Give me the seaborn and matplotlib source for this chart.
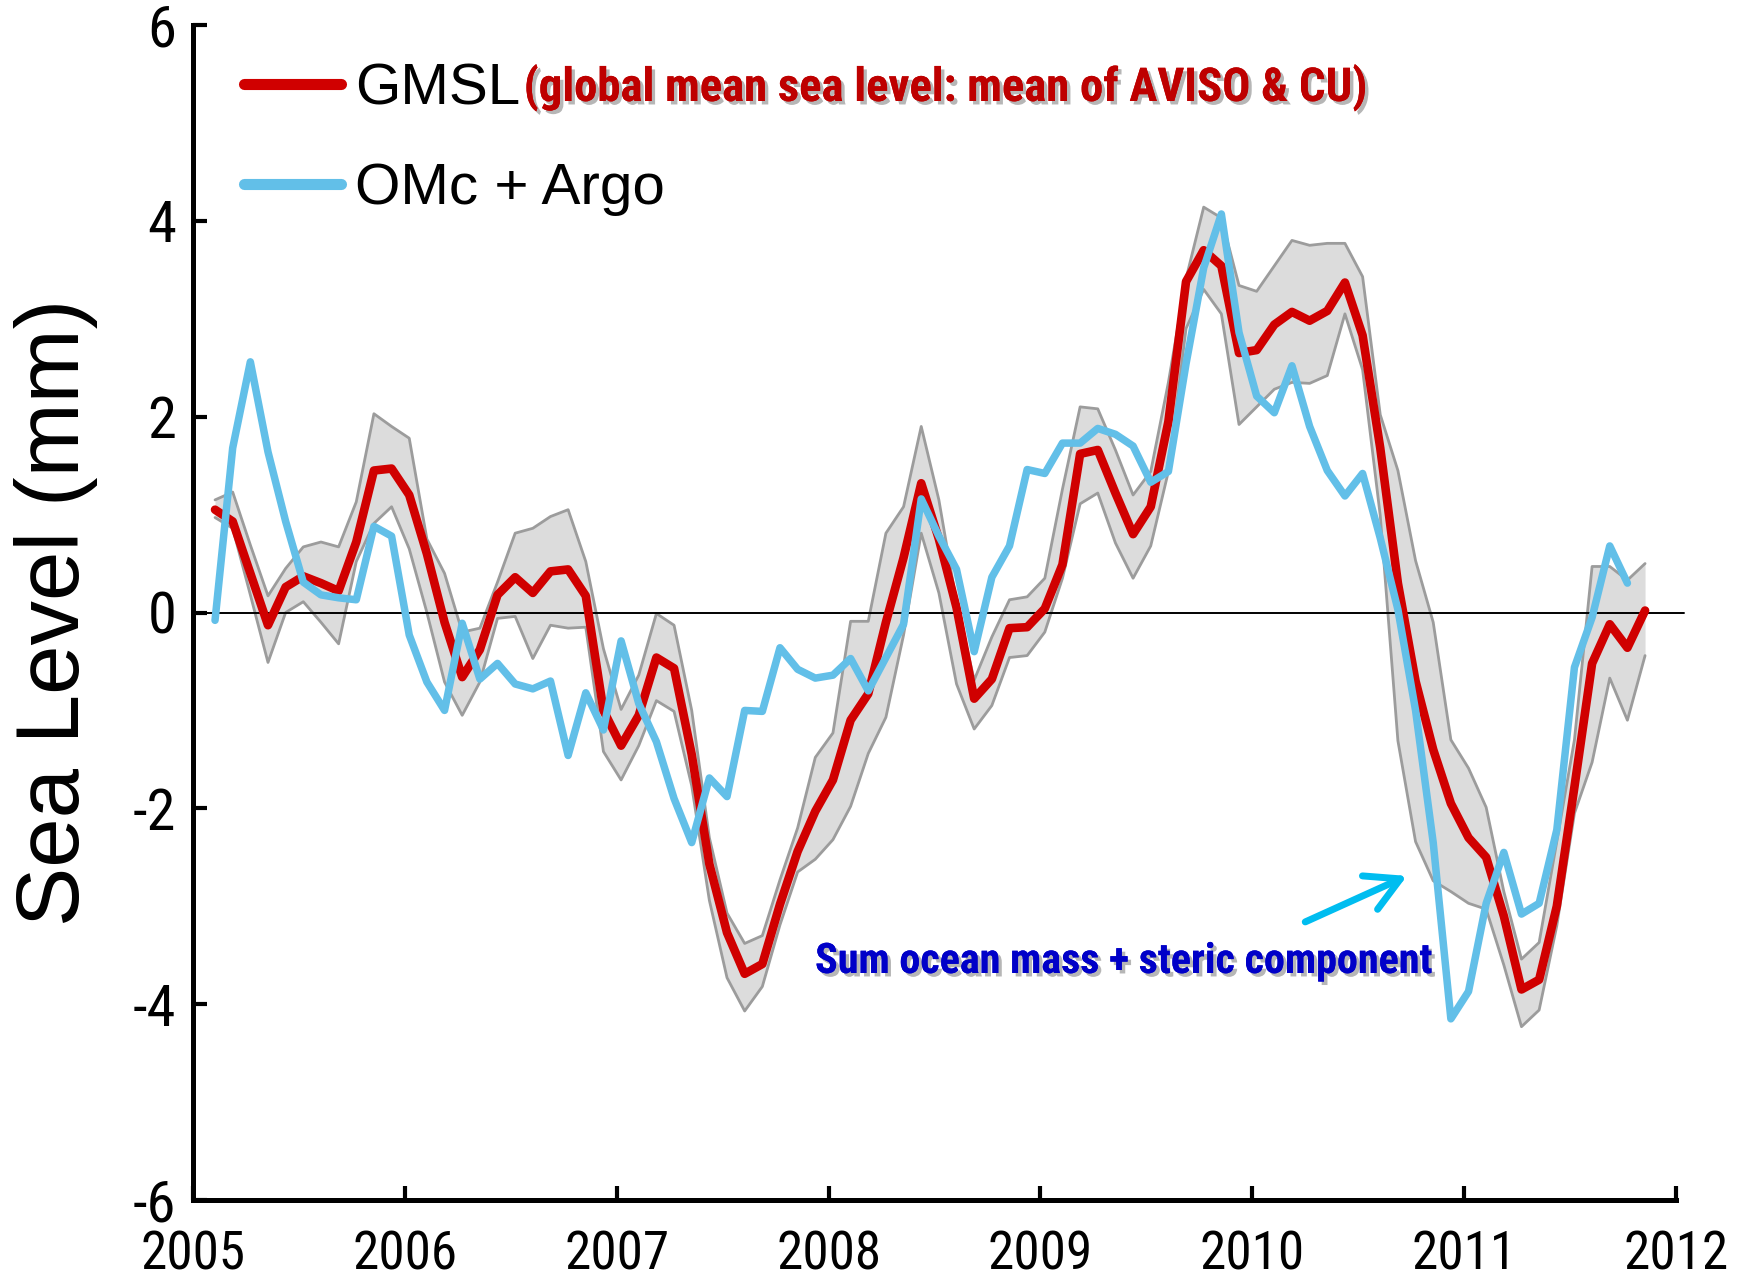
import numpy as np
import pandas as pd
import matplotlib
matplotlib.use("Agg")
import matplotlib.pyplot as plt
import seaborn as sns
from matplotlib import font_manager, patheffects

# Monthly anomalies (mm), starting early 2005
gmsl = [1.05, 0.93, 0.40, -0.13, 0.26, 0.37, 0.30, 0.22, 0.72, 1.45,
        1.47, 1.20, 0.60, -0.10, -0.66, -0.38, 0.18, 0.36, 0.20, 0.42,
        0.44, 0.17, -1.00, -1.36, -1.05, -0.46, -0.57, -1.45, -2.57, -3.27,
        -3.69, -3.59, -2.98, -2.44, -2.03, -1.71, -1.10, -0.83, -0.10, 0.56,
        1.32, 0.75, 0.05, -0.88, -0.68, -0.16, -0.15, 0.04, 0.49, 1.62,
        1.66, 1.22, 0.80, 1.08, 1.95, 3.38, 3.70, 3.54, 2.65, 2.68,
        2.94, 3.07, 2.98, 3.08, 3.37, 2.83, 1.68, 0.30, -0.70, -1.40,
        -1.95, -2.30, -2.50, -3.10, -3.85, -3.75, -3.00, -1.78, -0.52, -0.12,
        -0.36, 0.02]

gmsl_upper = [1.15, 1.23, 0.69, 0.17, 0.45, 0.67, 0.72, 0.67, 1.13, 2.03,
              1.90, 1.78, 0.75, 0.40, -0.20, -0.16, 0.31, 0.81, 0.86, 0.98,
              1.05, 0.52, -0.37, -0.99, -0.64, -0.01, -0.13, -1.00, -2.30, -3.07,
              -3.38, -3.30, -2.73, -2.20, -1.48, -1.23, -0.09, -0.09, 0.81, 1.08,
              1.90, 1.15, 0.10, -0.69, -0.25, 0.13, 0.16, 0.35, 1.26, 2.10,
              2.08, 1.66, 1.20, 1.44, 2.35, 3.41, 4.14, 4.03, 3.34, 3.28,
              3.54, 3.80, 3.75, 3.77, 3.77, 3.43, 2.02, 1.45, 0.53, -0.10,
              -1.30, -1.59, -1.99, -2.85, -3.54, -3.37, -2.34, -1.30, 0.47, 0.47,
              0.33, 0.50]

gmsl_lower = [0.97, 0.86, 0.18, -0.51, 0.00, 0.11, -0.10, -0.32, 0.52, 0.91,
              1.08, 0.65, 0.00, -0.71, -1.05, -0.71, -0.06, -0.04, -0.47, -0.13,
              -0.16, -0.15, -1.42, -1.71, -1.36, -0.90, -1.01, -1.77, -2.94, -3.73,
              -4.07, -3.82, -3.19, -2.65, -2.52, -2.32, -1.98, -1.44, -1.07, -0.23,
              0.81, 0.20, -0.73, -1.19, -0.95, -0.46, -0.44, -0.20, 0.35, 1.11,
              1.22, 0.71, 0.35, 0.68, 1.44, 2.90, 3.30, 3.05, 1.92, 2.10,
              2.28, 2.35, 2.34, 2.42, 3.05, 2.48, 0.99, -1.31, -2.34, -2.74,
              -2.85, -2.97, -3.03, -3.60, -4.23, -4.06, -3.20, -2.05, -1.53, -0.67,
              -1.10, -0.44]

omc_argo = [-0.08, 1.68, 2.56, 1.64, 0.93, 0.31, 0.18, 0.15, 0.13, 0.88,
            0.78, -0.23, -0.71, -1.00, -0.11, -0.68, -0.52, -0.73, -0.78, -0.70,
            -1.46, -0.82, -1.20, -0.29, -0.93, -1.32, -1.90, -2.35, -1.69, -1.88,
            -1.00, -1.01, -0.36, -0.58, -0.67, -0.64, -0.47, -0.80, -0.46, -0.12,
            1.16, 0.78, 0.44, -0.40, 0.36, 0.68, 1.46, 1.42, 1.73, 1.73,
            1.88, 1.82, 1.70, 1.33, 1.44, 2.54, 3.52, 4.07, 2.86, 2.21,
            2.04, 2.52, 1.90, 1.45, 1.19, 1.42, 0.76, 0.03, -1.00, -2.35,
            -4.15, -3.87, -2.97, -2.45, -3.08, -2.97, -2.22, -0.56, -0.05, 0.68,
            0.30]

year_ticks = [2005, 2006, 2007, 2008, 2009, 2010, 2011, 2012]
level_ticks = [-6, -4, -2, 0, 2, 4, 6]

series_labels = ["GMSL", "OMc + Argo"]
gmsl_note = "(global mean sea level: mean of AVISO & CU)"
sum_note = "Sum ocean mass + steric component"
y_title = "Sea Level (mm)"

# monthly time axis (decimal years)
t_gmsl = 2005.104 + np.arange(len(gmsl)) / 12.0
t_omc = 2005.104 + np.arange(len(omc_argo)) / 12.0

df_gmsl = pd.DataFrame({"year": t_gmsl, "level": gmsl,
                        "upper": gmsl_upper, "lower": gmsl_lower})
df_omc = pd.DataFrame({"year": t_omc, "level": omc_argo})

sns.set_theme(style="white")

available = {f.name for f in font_manager.fontManager.ttflist}


def pick(*names):
    for n in names:
        if n in available:
            return n
    return "DejaVu Sans"


regular = pick("Liberation Sans", "Arial", "Noto Sans", "DejaVu Sans")
narrow = pick("Liberation Sans Narrow", "Roboto Condensed", "Open Sans Condensed",
              "DejaVu Sans Condensed", regular)
plt.rcParams["font.family"] = [regular, "DejaVu Sans"]
plt.rcParams["text.color"] = "black"
plt.rcParams["axes.labelcolor"] = "black"

W, H = 1758, 1279
fig = plt.figure(figsize=(W / 100, H / 100), dpi=100)
fig.patch.set_facecolor("white")
ax = fig.add_axes([193 / W, 79 / H, (1676 - 193) / W, (1200 - 25) / H])
ax.set_facecolor("white")

red = "#D00000"
blue = "#62BFE8"
band_fill = "#DCDCDC"
band_edge = "#9C9C9C"

# uncertainty envelope of GMSL
ax.fill_between(df_gmsl["year"], df_gmsl["lower"], df_gmsl["upper"],
                color=band_fill, lw=0, zorder=1)
sns.lineplot(data=df_gmsl, x="year", y="upper", color=band_edge, lw=2.0,
             estimator=None, sort=False, ax=ax, zorder=2, legend=False)
sns.lineplot(data=df_gmsl, x="year", y="lower", color=band_edge, lw=2.0,
             estimator=None, sort=False, ax=ax, zorder=2, legend=False)

# zero reference
ax.plot([2005, 2012.04], [0, 0], color="black", lw=1.4, zorder=2.5,
        clip_on=False)

sns.lineplot(data=df_gmsl, x="year", y="level", color=red, lw=6.2,
             estimator=None, sort=False, ax=ax, zorder=3,
             label=series_labels[0])
sns.lineplot(data=df_omc, x="year", y="level", color=blue, lw=5.4,
             estimator=None, sort=False, ax=ax, zorder=4,
             label=series_labels[1])

ax.set_xlim(2005, 2012)
ax.set_ylim(-6, 6)
ax.set_xlabel("")
ax.set_ylabel("")

for side in ("top", "right"):
    ax.spines[side].set_visible(False)
for side in ("left", "bottom"):
    ax.spines[side].set_color("black")
    ax.spines[side].set_linewidth(3.6)

ax.set_xticks(year_ticks)
ax.set_xticklabels([str(y) for y in year_ticks])
ax.set_yticks(level_ticks)
ax.set_yticklabels([str(v) for v in level_ticks])
ax.tick_params(axis="both", which="major", direction="in", length=10,
               width=3, color="black", left=True, bottom=True,
               labelcolor="black")
ax.tick_params(axis="x", pad=21)
ax.tick_params(axis="y", pad=12)
for lab in ax.get_xticklabels() + ax.get_yticklabels():
    lab.set_fontfamily([narrow, "DejaVu Sans"])
    lab.set_fontsize(40)

ylab = ax.set_ylabel(y_title, fontsize=64, color="black",
                     fontfamily=[regular, "DejaVu Sans"])
ylab.set_verticalalignment("center")
ax.yaxis.set_label_coords(-0.0925, 0.5)

leg = ax.legend(loc="center left",
                bbox_to_anchor=(244 / W, 1 - 139.5 / H),
                bbox_transform=fig.transFigure, frameon=False,
                fontsize=42, handlelength=1.66, handletextpad=0.25,
                labelspacing=0.78, borderpad=0, borderaxespad=0,
                labelcolor="black")
for ln in leg.get_lines():
    ln.set_linewidth(8)

shadow = [patheffects.withSimplePatchShadow(offset=(2.5, -2.5),
                                            shadow_rgbFace="#7a7a7a",
                                            alpha=0.55),
          patheffects.Normal()]

renderer = fig.canvas.get_renderer()
fig.canvas.draw()

gm_bb = leg.get_texts()[0].get_window_extent(renderer)
note_x = max(513, gm_bb.x1 + 3) / W

note1 = fig.text(note_x, 1 - 101 / H, gmsl_note, color="#BE0000",
                 fontsize=32, fontweight="bold",
                 fontfamily=[narrow, "DejaVu Sans"],
                 ha="left", va="baseline", path_effects=shadow)
note2 = fig.text(815 / W, 1 - 973 / H, sum_note, color="#0000C8",
                 fontsize=25, fontweight="bold",
                 fontfamily=[narrow, "DejaVu Sans"],
                 ha="left", va="baseline", path_effects=shadow)

ax.annotate("", xy=(2010.73, -2.69), xytext=(2010.25, -3.16),
            arrowprops=dict(arrowstyle="->,head_length=0.6,head_width=0.33",
                            color="#00BDF0", lw=5, mutation_scale=40,
                            shrinkA=0, shrinkB=0),
            zorder=6)


def fit(txt, target):
    for _ in range(2):
        bb = txt.get_window_extent(renderer)
        if bb.width > 0:
            txt.set_fontsize(txt.get_fontsize() * target / bb.width)


fit(note1, 843)
fit(note2, 617)

xl = ax.get_xticklabels()
for _ in range(2):
    bb = xl[0].get_window_extent(renderer)
    if bb.width > 0:
        new = xl[0].get_fontsize() * 105 / bb.width
        for lab in ax.get_xticklabels():
            lab.set_fontsize(new)
        for lab in ax.get_yticklabels():
            lab.set_fontsize(new * 1.1)

fig.savefig("out.png", dpi=100, facecolor="white")
